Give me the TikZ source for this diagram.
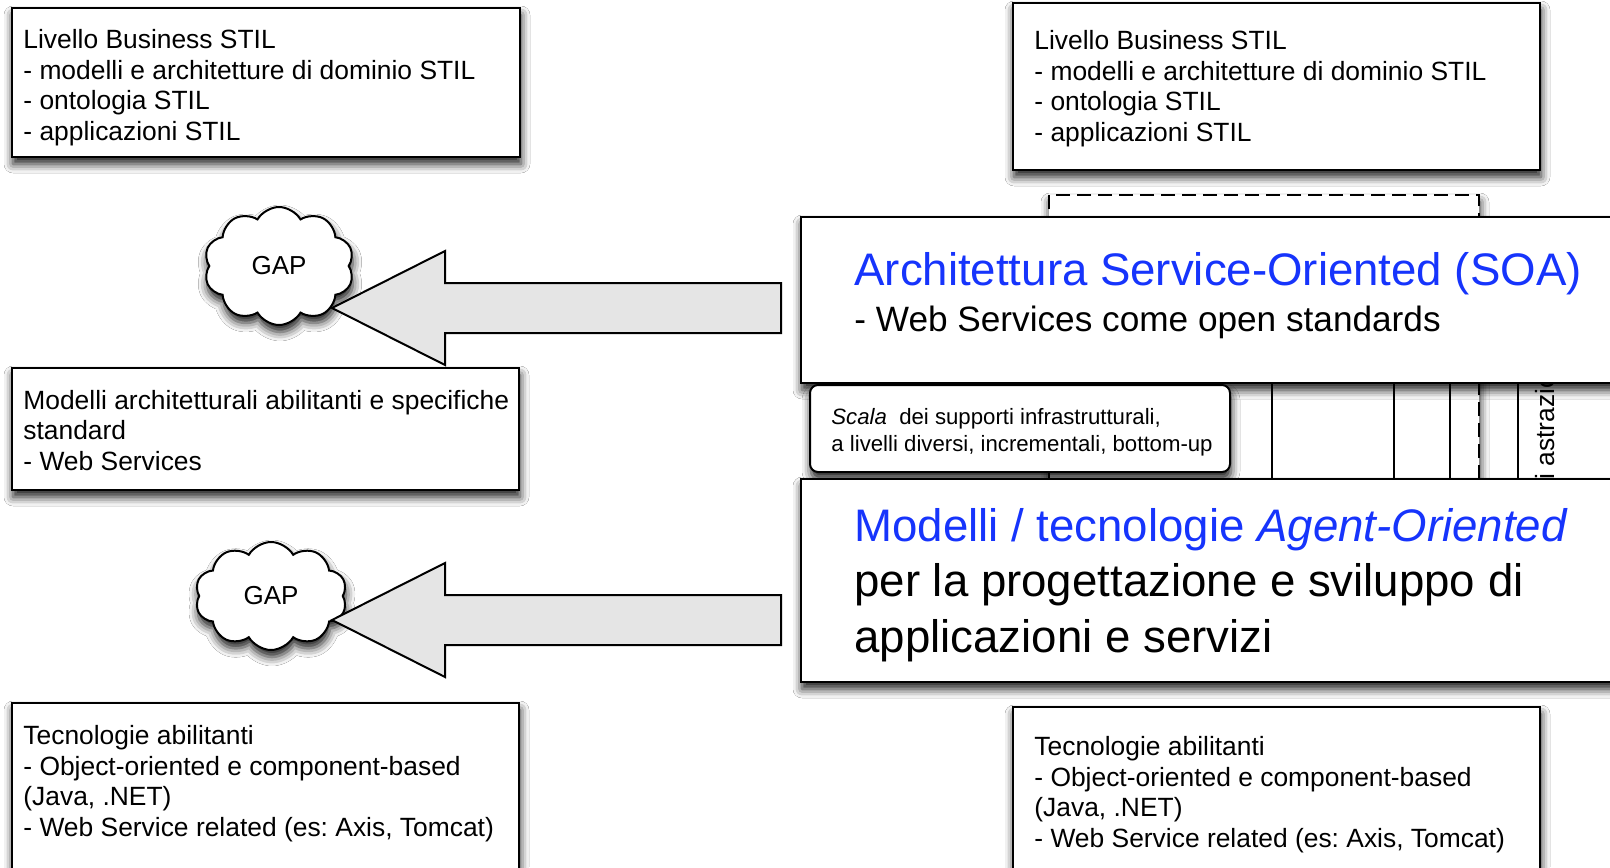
\documentclass[tikz,border=0pt]{standalone}
\usepackage{fontspec}
\setmainfont{Liberation Sans}
\frenchspacing
\usetikzlibrary{fit,calc,shapes.symbols,shadows.blur}
\definecolor{soablue}{RGB}{22,52,252}
\definecolor{arrowgray}{RGB}{229,229,229}
\begin{document}
\begin{tikzpicture}[x=0.5pt,y=-0.5pt,
  softshadow/.style={blur shadow={shadow xshift=0.5pt, shadow yshift=-3.5pt,
      shadow blur radius=4.5pt, shadow opacity=90}},
  panel/.style={draw=black, line width=1pt, fill=white, inner sep=0pt, softshadow},
  % text nodes are placed by the baseline of their last line
  txt/.style={font=\fontsize{13.2pt}{15.2pt}\selectfont, align=left, inner sep=0pt, anchor=base west},
  smalltxt/.style={font=\fontsize{11.1pt}{13.5pt}\selectfont, align=left, inner sep=0pt, anchor=base west},
  bigtxt/.style={font=\fontsize{22.8pt}{27.7pt}\selectfont, align=left, inner sep=0pt, anchor=base west},
  gapcloud/.style={cloud, draw=black, line width=1pt, fill=white, cloud puffs=10,
      cloud puff arc=120, inner sep=0pt, softshadow, font=\fontsize{13pt}{15pt}\selectfont},
  bigarrow/.style={draw=black, line width=1pt, fill=arrowgray, line join=miter},
  column/.style={draw=black, line width=0.75pt}]

\useasboundingbox (0,0) rectangle (1610,867);
\clip (0,0) rectangle (1610,867);
\fill[white] (0,0) rectangle (1610,867);

% ---- left column: current state ----
\node[panel, fit={(12,8) (520,157)}] (bizL) {};
\node[txt] (bizLtext) at (23,140) {Livello Business STIL\\- modelli e architetture di dominio STIL\\- ontologia STIL\\- applicazioni STIL};

\node[panel, fit={(12,368) (519,490)}] (stdL) {};
\node[txt] (stdLtext) at (23,470) {Modelli architetturali abilitanti e specifiche\\standard\\- Web Services};

\node[panel, fit={(12,703) (519,920)}] (techL) {};
\node[txt] (techLtext) at (23,836) {Tecnologie abilitanti\\- Object-oriented e component-based\\(Java, .NET)\\- Web Service related (es: Axis, Tomcat)};

% ---- right column: target stack ----
\node[panel, fit={(1013,3) (1540,170)}] (bizR) {};
\node[txt] (bizRtext) at (1034,141) {Livello Business STIL\\- modelli e architetture di dominio STIL\\- ontologia STIL\\- applicazioni STIL};

\node[panel, fit={(1013,707) (1540,920)}] (techR) {};
\node[txt] (techRtext) at (1034,847) {Tecnologie abilitanti\\- Object-oriented e component-based\\(Java, .NET)\\- Web Service related (es: Axis, Tomcat)};

% infrastructure layers behind the two main blocks
\node[panel, dashed, dash pattern=on 7pt off 3.5pt, fit={(1049,195) (1479,490)}] (infra) {};
\draw[column] (1272,370) -- (1272,490);
\draw[column] (1394,370) -- (1394,490);
\draw[column] (1450,370) -- (1450,490);
\draw[column] (1518,370) -- (1518,490);
\node[txt, rotate=90] (levels) at (1554,494.5) {di astrazione};

% main blocks
\node[panel, fit={(801,217) (1650,383)}] (soa) {};
\node[bigtxt, text=soablue] (soatitle) at (854,285) {Architettura Service-Oriented (SOA)};
\node[bigtxt, font=\fontsize{17.6pt}{21pt}\selectfont] (soasub) at (854,331) {- Web Services come open standards};

\node[panel, rounded corners=4pt, fit={(810,385) (1230,472)}] (scala) {};
\node[smalltxt] (scalatext) at (831,451) {\textit{Scala}~ dei supporti infrastrutturali,\\a livelli diversi, incrementali, bottom-up};

\node[panel, fit={(801,479) (1650,682)}] (agent) {};
\node[bigtxt] (agenttext) at (854,652) {\textcolor{soablue}{Modelli / tecnologie \textit{Agent-Oriented}}\\per la progettazione e sviluppo di\\applicazioni e servizi};

% ---- gaps ----
\node[gapcloud, minimum width=75pt, minimum height=59pt] (gap1) at (279,266) {GAP};
\node[gapcloud, minimum width=76pt, minimum height=54pt] (gap2) at (271,596) {GAP};

\coordinate (a1tip) at (332,308);
\coordinate (a1tail) at (781,308);
\draw[bigarrow] ($(a1tail)+(0,-25)$) -- ($(a1tip)+(113,-25)$) -- ($(a1tip)+(113,-57)$)
  -- (a1tip) -- ($(a1tip)+(113,57)$) -- ($(a1tip)+(113,25)$) -- ($(a1tail)+(0,25)$) -- cycle;

\coordinate (a2tip) at (332,620);
\coordinate (a2tail) at (781,620);
\draw[bigarrow] ($(a2tail)+(0,-25)$) -- ($(a2tip)+(113,-25)$) -- ($(a2tip)+(113,-57)$)
  -- (a2tip) -- ($(a2tip)+(113,57)$) -- ($(a2tip)+(113,25)$) -- ($(a2tail)+(0,25)$) -- cycle;
\end{tikzpicture}
\end{document}
